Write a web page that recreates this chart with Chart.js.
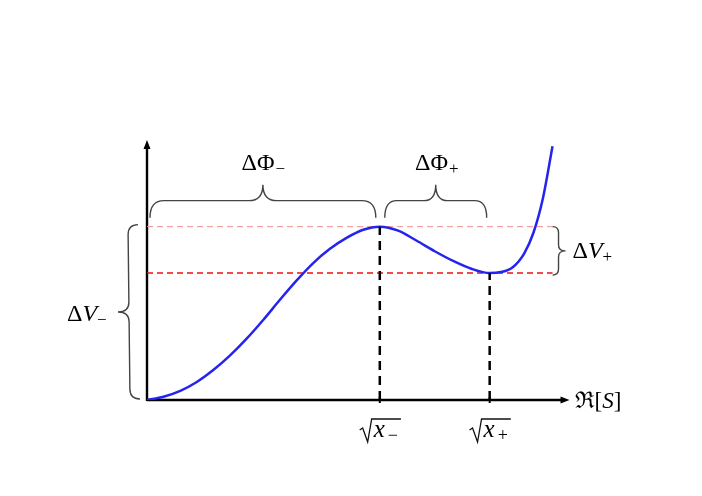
<!DOCTYPE html>
<html>
<head>
<meta charset="utf-8">
<script src="https://cdn.jsdelivr.net/npm/chart.js@4.4.1/dist/chart.umd.min.js"></script>
<style>
  html, body { margin: 0; padding: 0; background: #ffffff; }
  #wrap { width: 702px; height: 496px; }
</style>
</head>
<body>
<div id="wrap"><canvas id="chart" width="702" height="496"></canvas></div>
<script>
// potential V(x) (x: field value, V: potential)
const fieldX = [0, 0.071, 0.143, 0.214, 0.286, 0.357, 0.429, 0.5, 0.571, 0.643, 0.714, 0.786, 0.857, 0.929, 1.0,
                1.079, 1.157, 1.236, 1.315, 1.393, 1.472, 1.52, 1.57, 1.62, 1.66, 1.70, 1.742];
const potentialV = [0, 0.019, 0.053, 0.104, 0.174, 0.257, 0.355, 0.463, 0.578, 0.69, 0.79, 0.872, 0.935, 0.982, 1.0,
                    0.977, 0.92, 0.858, 0.802, 0.757, 0.732, 0.738, 0.765, 0.845, 0.965, 1.16, 1.464];

// the two stationary points and their potential levels
const stationaryX = [1.0, 1.472];
const levelV = [1.0, 0.732];
const levelEndX = 1.742;

const serif = '"Liberation Serif", serif';

function pts(xs, ys) {
    return xs.map((x, i) => ({ x: x, y: ys[i] }));
}

// curly brace from A to B, bulging to the left of the A->B direction
function brace(ctx, ax, ay, bx, by, flat, tip, r) {
    const L = Math.hypot(bx - ax, by - ay);
    const m = L / 2;
    ctx.save();
    ctx.translate(ax, ay);
    ctx.rotate(Math.atan2(by - ay, bx - ax));
    ctx.beginPath();
    ctx.moveTo(0, 0);
    ctx.quadraticCurveTo(0, -flat, r, -flat);
    ctx.lineTo(m - r, -flat);
    ctx.quadraticCurveTo(m, -flat, m, -tip);
    ctx.quadraticCurveTo(m, -flat, m + r, -flat);
    ctx.lineTo(L - r, -flat);
    ctx.quadraticCurveTo(L, -flat, L, 0);
    ctx.strokeStyle = '#444444';
    ctx.lineWidth = 1.4;
    ctx.stroke();
    ctx.restore();
}

function setFont(ctx, p, size) {
    const s = Math.round(p.sub ? size * 0.72 : size);
    ctx.font = (p.it ? 'italic ' : '') + s + 'px ' + serif;
}

// parts: {t, it, sub}
function mathWidth(ctx, parts, size) {
    let w = 0;
    parts.forEach(p => {
        setFont(ctx, p, size);
        w += ctx.measureText(p.t).width + (p.gap || 0);
    });
    return w;
}

function drawMath(ctx, parts, x, y, size, align) {
    let cx = x;
    if (align === 'center') cx = x - mathWidth(ctx, parts, size) / 2;
    ctx.fillStyle = '#000000';
    ctx.textBaseline = 'alphabetic';
    ctx.textAlign = 'left';
    parts.forEach(p => {
        setFont(ctx, p, size);
        ctx.fillText(p.t, cx, y + (p.sub ? 4 : 0));
        cx += ctx.measureText(p.t).width + (p.gap || 0);
    });
}

function drawSqrt(ctx, sign, cx, y) {
    const parts = [{ t: 'x', it: true, gap: 3 }, { t: sign, sub: true }];
    const w = mathWidth(ctx, parts, 25);
    const x = cx - (w + 16) / 2;
    ctx.beginPath();
    ctx.moveTo(x, y - 7);
    ctx.lineTo(x + 3, y - 9);
    ctx.lineTo(x + 8, y + 5);
    ctx.lineTo(x + 12, y - 18);
    ctx.lineTo(x + 17 + w, y - 18);
    ctx.strokeStyle = '#111111';
    ctx.lineWidth = 1.3;
    ctx.stroke();
    drawMath(ctx, parts, x + 14, y, 25, 'left');
}

const axesPlugin = {
    id: 'axesPlugin',
    beforeDatasetsDraw(chart) {
        const ctx = chart.ctx;
        const xs = chart.scales.x, ys = chart.scales.y;
        const x0 = xs.getPixelForValue(0), y0 = ys.getPixelForValue(0);
        const xEnd = xs.getPixelForValue(1.815), yEnd = ys.getPixelForValue(1.5);
        ctx.save();
        ctx.strokeStyle = '#000000';
        ctx.fillStyle = '#000000';
        ctx.lineWidth = 2.4;
        ctx.beginPath();
        ctx.moveTo(x0, y0);
        ctx.lineTo(xEnd - 6, y0);
        ctx.moveTo(x0, y0 + 1);
        ctx.lineTo(x0, yEnd + 6);
        ctx.stroke();
        ctx.beginPath();
        ctx.moveTo(xEnd, y0);
        ctx.lineTo(xEnd - 9, y0 - 3.5);
        ctx.lineTo(xEnd - 9, y0 + 3.5);
        ctx.closePath();
        ctx.moveTo(x0, yEnd);
        ctx.lineTo(x0 - 3.5, yEnd + 9);
        ctx.lineTo(x0 + 3.5, yEnd + 9);
        ctx.closePath();
        ctx.fill();
        ctx.restore();
    },
    afterDatasetsDraw(chart) {
        const ctx = chart.ctx;
        const xs = chart.scales.x, ys = chart.scales.y;
        const x0 = xs.getPixelForValue(0), y0 = ys.getPixelForValue(0);
        const xm = xs.getPixelForValue(stationaryX[0]);
        const xp = xs.getPixelForValue(stationaryX[1]);
        const yTop = ys.getPixelForValue(levelV[0]);
        const yLow = ys.getPixelForValue(levelV[1]);
        const xr = xs.getPixelForValue(levelEndX);
        ctx.save();
        // braces
        brace(ctx, x0 + 3, yTop - 9, xm - 4, yTop - 9, 17, 33, 14);
        brace(ctx, xm + 5, yTop - 9, xp - 3, yTop - 9, 17, 33, 12);
        brace(ctx, xr, yTop, xr, yLow + 2, 6, 13, 6);
        brace(ctx, x0 - 7, y0 - 1, x0 - 9, yTop - 2, 10, 21, 10);
        // labels
        drawMath(ctx, [{ t: 'Δ' }, { t: 'Φ', gap: 1 }, { t: '−', sub: true }], (x0 + xm) / 2, yTop - 57, 24, 'center');
        drawMath(ctx, [{ t: 'Δ' }, { t: 'Φ', gap: 1 }, { t: '+', sub: true }], (xm + xp) / 2 + 2, yTop - 57, 24, 'center');
        drawMath(ctx, [{ t: 'Δ' }, { t: 'V', it: true }, { t: '+', sub: true }], xr + 20, (yTop + yLow) / 2 + 8, 24, 'left');
        drawMath(ctx, [{ t: 'Δ' }, { t: 'V', it: true }, { t: '−', sub: true }], x0 - 80, (y0 + yTop) / 2 + 8, 24, 'left');
        drawMath(ctx, [{ t: 'ℜ' }, { t: '[' }, { t: 'S', it: true }, { t: ']' }], xs.getPixelForValue(1.815) + 5, y0 + 8, 23, 'left');
        drawSqrt(ctx, '−', xm, y0 + 37);
        drawSqrt(ctx, '+', xp, y0 + 37);
        // small ticks on the axis
        ctx.strokeStyle = '#000000';
        ctx.lineWidth = 2;
        [xm, xp].forEach(x => {
            ctx.beginPath();
            ctx.moveTo(x, y0 - 3);
            ctx.lineTo(x, y0 + 3);
            ctx.stroke();
        });
        ctx.restore();
    }
};

new Chart(document.getElementById('chart').getContext('2d'), {
    type: 'line',
    data: {
        datasets: [
            {
                data: pts([stationaryX[0], stationaryX[0]], [0, levelV[0]]),
                borderColor: '#000000',
                borderWidth: 2.5,
                borderDash: [9, 6],
                pointRadius: 0
            },
            {
                data: pts([stationaryX[1], stationaryX[1]], [0, levelV[1]]),
                borderColor: '#000000',
                borderWidth: 2.5,
                borderDash: [9, 6],
                pointRadius: 0
            },
            {
                data: pts(fieldX, potentialV),
                borderColor: '#2424ee',
                borderWidth: 2.5,
                cubicInterpolationMode: 'monotone',
                pointRadius: 0
            },
            {
                data: pts([0, levelEndX], [levelV[0], levelV[0]]),
                borderColor: '#f09090',
                borderWidth: 1,
                borderDash: [6, 4],
                pointRadius: 0
            },
            {
                data: pts([0, levelEndX], [levelV[1], levelV[1]]),
                borderColor: '#ee1111',
                borderWidth: 1.5,
                borderDash: [6, 4],
                pointRadius: 0
            }
        ]
    },
    options: {
        responsive: false,
        animation: false,
        layout: { padding: { left: 147, right: 122, top: 140, bottom: 96 } },
        scales: {
            x: { type: 'linear', min: 0, max: 1.86, display: false },
            y: { type: 'linear', min: 0, max: 1.5, display: false }
        },
        plugins: {
            legend: { display: false },
            tooltip: { enabled: false }
        },
        elements: { line: { fill: false } }
    },
    plugins: [axesPlugin]
});
</script>
</body>
</html>
